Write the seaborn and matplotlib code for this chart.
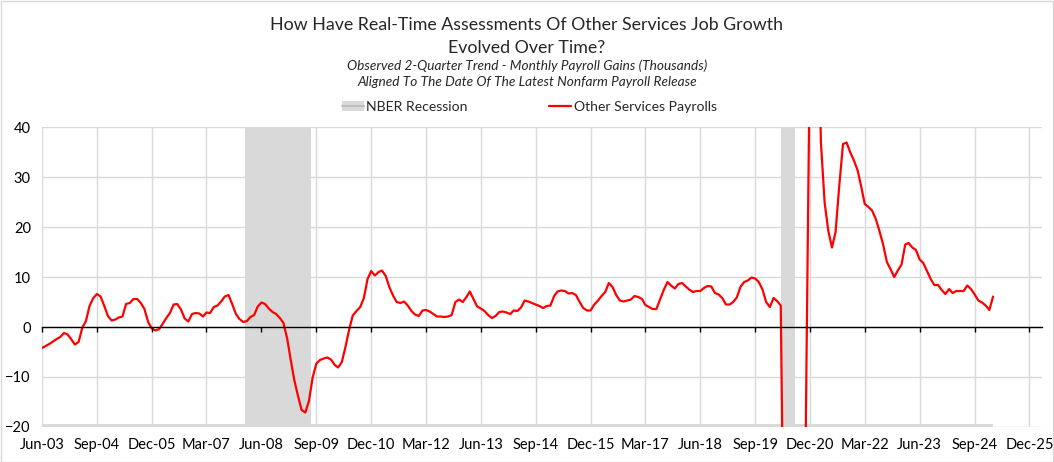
import numpy as np
import pandas as pd
import seaborn as sns
import matplotlib.pyplot as plt
import matplotlib.dates as mdates
from matplotlib.patches import Patch, Rectangle
from matplotlib.lines import Line2D

# wartosci miesieczne od Jun-03
start = '2003-06-01'
payrolls = [
    -4.2, -3.8, -3.4, -2.9, -2.4, -2.0, -1.2, -1.5, -2.5, -3.5, -3.0, -0.2,
    1.2, 4.2, 5.8, 6.6, 6.1, 4.2, 2.2, 1.3, 1.5, 1.9, 2.1, 4.6,
    4.8, 5.6, 5.6, 4.8, 3.6, 1.0, -0.3, -0.7, -0.4, 0.6, 1.8, 2.8,
    4.5, 4.6, 3.5, 1.7, 1.1, 2.6, 2.8, 2.7, 2.1, 2.9, 2.8, 4.0,
    4.3, 5.1, 6.1, 6.4, 4.6, 2.6, 1.6, 1.0, 1.2, 2.0, 2.4, 4.1,
    4.9, 4.6, 3.7, 3.0, 2.6, 1.8, 0.8, -2.3, -6.8, -10.6, -13.8, -16.6,
    -17.1, -14.8, -10.1, -7.3, -6.6, -6.3, -6.1, -6.5, -7.6, -8.1, -7.0, -4.0,
    -0.5, 2.3, 3.2, 4.0, 5.8, 9.6, 11.2, 10.3, 11.0, 11.3, 10.2, 8.0,
    6.3, 5.0, 4.8, 5.1, 4.3, 3.2, 2.5, 2.2, 3.3, 3.4, 3.1, 2.6,
    2.1, 2.1, 2.0, 2.1, 2.4, 5.0, 5.5, 5.0, 6.0, 7.1, 5.6, 4.1,
    3.7, 3.2, 2.4, 1.8, 2.2, 3.0, 3.1, 2.9, 2.6, 3.3, 3.2, 3.9,
    5.3, 5.1, 4.8, 4.5, 4.2, 3.8, 4.2, 4.3, 6.2, 7.1, 7.3, 7.2,
    6.7, 6.8, 6.4, 5.0, 3.8, 3.3, 3.3, 4.5, 5.3, 6.2, 7.0, 8.8,
    8.0, 6.4, 5.3, 5.1, 5.3, 5.5, 6.2, 6.0, 5.6, 4.4, 4.0, 3.6,
    3.6, 5.5, 7.4, 9.0, 8.3, 7.7, 8.6, 8.8, 8.1, 7.5, 7.0, 7.2,
    7.2, 7.8, 8.2, 8.1, 6.8, 6.5, 5.8, 4.5, 4.5, 5.0, 5.9, 8.0,
    9.0, 9.3, 9.9, 9.7, 9.0, 7.5, 5.0, 4.0, 5.8, 5.2, 4.3, -60.0,
    -250.0, -300.0, -250.0, -160.0, -80.0, -7.0, 60.0, 90.0, 70.0, 37.0, 24.9, 19.3,
    15.9, 19.0, 28.3, 36.6, 36.9, 34.9, 33.3, 31.3, 27.9, 24.6, 24.0, 23.3,
    21.6, 19.2, 16.5, 13.0, 11.6, 10.0, 11.3, 12.5, 16.5, 16.8, 15.9, 15.4,
    13.5, 12.8, 11.2, 9.6, 8.4, 8.4, 7.4, 6.6, 7.6, 6.8, 7.2, 7.2,
    7.2, 8.3, 7.6, 6.5, 5.3, 4.9, 4.3, 3.4, 6.1,
]
# okresy recesji NBER (przesuniete jak na wykresie)
recesje = [('2008-01-13', '2009-07-15'), ('2020-04-01', '2020-07-25')]

daty = pd.date_range(start, periods=len(payrolls), freq='MS')
df = pd.DataFrame({'data': daty, 'wartosc': payrolls})

sns.set_style('white')
plt.rcParams['font.family'] = ['Lato', 'DejaVu Sans']

ymin, ymax = -20, 40
fig = plt.figure(figsize=(10.54, 4.62), dpi=100)
ax = fig.add_axes([0.0398, 0.0758, 0.9488, 0.6492])

szary = '#d9d9d9'
# obszar recesji + cienki pasek przy dolnej osi
for a, b in recesje:
    ax.axvspan(pd.Timestamp(a), pd.Timestamp(b), color=szary, lw=0, zorder=1)
ax.fill_between(df['data'], ymin, ymin + 0.5, color=szary, lw=0, zorder=1)

sns.lineplot(data=df, x='data', y='wartosc', ax=ax, color='#ff0000', lw=1.6, zorder=3)

ax.set_ylim(ymin, ymax)
ax.set_xlim(pd.Timestamp(start), pd.Timestamp('2026-03-15'))
ax.set_yticks(range(-20, 41, 10))
ticki = pd.date_range(start, '2025-12-01', freq='15MS')
ax.set_xticks(ticki)
ax.xaxis.set_major_formatter(mdates.DateFormatter('%b-%y'))
ax.grid(True, color=szary, lw=1)
ax.set_axisbelow(True)
for s in ax.spines.values():
    s.set_visible(False)
ax.tick_params(axis='both', length=0, labelsize=10.5, colors='black')
ax.tick_params(axis='x', pad=8)
ax.tick_params(axis='y', pad=8)
ax.set_xlabel('')
ax.set_ylabel('')

# linia zera z kreskami
sec = ax.secondary_xaxis((0 - ymin) / (ymax - ymin))
sec.set_xticks(ticki)
sec.set_xticklabels([])
sec.tick_params(axis='x', length=3.5, width=1, direction='out', color='black')
sec.spines['bottom'].set_color('black')
sec.spines['bottom'].set_linewidth(1)
sec.set_zorder(4)

fig.text(0.5, 0.945, 'How Have Real-Time Assessments Of Other Services Job Growth',
         ha='center', va='center', fontsize=12.75)
fig.text(0.5, 0.897, 'Evolved Over Time?', ha='center', va='center', fontsize=12.75)
fig.text(0.5, 0.858, 'Observed 2-Quarter Trend - Monthly Payroll Gains (Thousands)',
         ha='center', va='center', fontsize=9.8, style='italic')
fig.text(0.5, 0.822, 'Aligned To The Date Of The Latest Nonfarm Payroll Release',
         ha='center', va='center', fontsize=9.8, style='italic')

uchwyty = [(Patch(facecolor=szary, edgecolor='none'), Line2D([], [], color='#bdbdbd', lw=1.5)),
           Line2D([], [], color='#ff0000', lw=1.6)]
fig.legend(uchwyty, ['NBER Recession', 'Other Services Payrolls'], loc='center',
           bbox_to_anchor=(0.502, 0.769), ncol=2, frameon=False, fontsize=10.1,
           handlelength=1.6, handletextpad=0.15, columnspacing=5.8)

fig.patches.append(Rectangle((0.001, 0.001), 0.998, 0.997, transform=fig.transFigure,
                             fill=False, edgecolor=szary, lw=1))

plt.savefig('out.png', dpi=100)
plt.close()
